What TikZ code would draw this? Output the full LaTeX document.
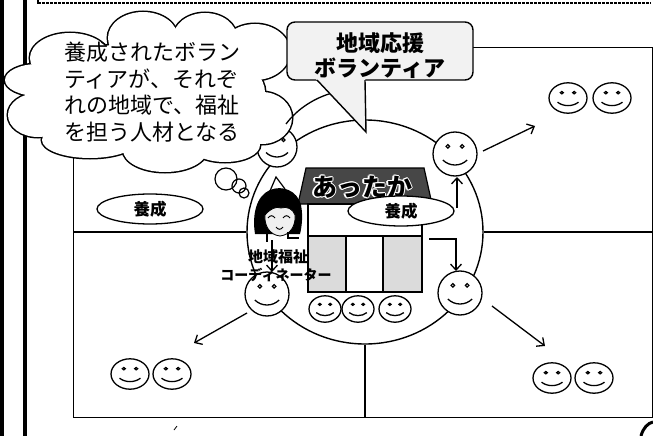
\documentclass[tikz,border=0pt]{standalone}
\usepackage{fontspec}
\newfontfamily\jpfont{Noto Sans CJK JP}
\usetikzlibrary{arrows.meta,shapes.geometric}
\begin{document}
\begin{tikzpicture}[x=1pt,y=-1pt,
  frameline/.style={line width=1.2pt},
  arr/.style={line width=1.3pt,-{Straight Barb[length=6pt,width=11pt,line width=1.3pt]}},
  oval/.style={draw,ellipse,line width=1.3pt,fill=white,inner sep=0pt,
    minimum width=106pt,minimum height=30pt,
    font=\jpfont\bfseries\fontsize{16.5}{18}\selectfont},
  roofword/.style={inner sep=0pt,font=\jpfont\bfseries\fontsize{25}{26}\selectfont},
  panel/.style={draw,line width=1.4pt},
  pics/smiley/.style={code={
    \draw[line width=1.3pt,fill=white] (0,0) circle [radius=20];
    \draw[line width=1.2pt] (-6.5,-7) circle [radius=1.6];
    \draw[line width=1.2pt] (6.5,-7) circle [radius=1.6];
    \draw[line width=1.3pt] (-11,5.5) .. controls (-5,11.5) and (5,11.5) .. (11,5.5);
  }}
]
\useasboundingbox (0,0) rectangle (653,436);

% page edge rules
\draw[line width=4pt] (2,0) -- (2,436);
\draw[line width=3.5pt] (25,0) -- (25,436);
\draw[line width=1.5pt,dash pattern=on 3pt off 1pt] (38,3) -- (651,3);
\draw[line width=1.2pt] (38,0) -- (38,4);

% outer frame and quadrant dividers
\node[draw,frameline,anchor=north west,inner sep=0pt,
      minimum width=579pt,minimum height=370pt] (fr) at (73,47) {};
\node[draw,ellipse,line width=1.4pt,inner sep=0pt,
      minimum width=236pt,minimum height=224pt] (hub) at (365,232) {};
\draw[frameline] (fr.west |- hub.west) -- (hub.west);
\draw[frameline] (hub.east) -- (hub.east -| fr.east);
\draw[frameline] (hub.south) -- (hub.south |- fr.south);

% house: roof with haloed lettering, walls and panels
\filldraw[fill=black!72,line width=1.2pt] (298,204) -- (306,168) -- (424,168) -- (432,204) -- cycle;
\foreach \dx/\dy [count=\k] in {-1.3/0,1.3/0,0/-1.3,0/1.3,-0.9/-0.9,0.9/0.9,-0.9/0.9,0.9/-0.9}
  \node[roofword,text=white] (halo\k) at (362+\dx,187+\dy) {あったか};
\node[roofword] (roofword) at (362,187) {あったか};
\draw[panel,fill=white] (308,204) rectangle (422,236);
\draw[panel,fill=black!14] (308,236) rectangle (346,292);
\draw[panel,fill=white] (346,236) rectangle (383,292);
\draw[panel,fill=black!14] (383,236) rectangle (422,292);

% training ovals
\node[oval] (trainL) at (150,209) {養成};
\node[oval] (trainH) at (401,211) {養成};

% smiling faces
\pic at (277,147) {smiley};
\pic[scale=1.1] at (455,154) {smiley};
\pic[scale=1.1] at (460,293) {smiley};
\pic[scale=1.1] at (267,294) {smiley};
\foreach \fx in {325,358,395} \pic[xscale=.8,yscale=.66] at (\fx,309) {smiley};
\foreach \fx/\fy in {568/98,612/98,552/378,594/378,130/374,172/374}
  \pic[xscale=.95,yscale=.76] at (\fx,\fy) {smiley};

% arrow end points
\coordinate (trS) at (483,151);  \coordinate (trE) at (535,126);
\coordinate (brS) at (492,306);  \coordinate (brE) at (545,346);
\coordinate (blS) at (247,313);  \coordinate (blE) at (194,343);
\coordinate (upS) at (457,208);  \coordinate (upE) at (457,177);
\coordinate (bnS) at (429,239);  \coordinate (bnE) at (456,271);
\coordinate (coS) at (272,240);  \coordinate (coE) at (272,272);
\draw[arr] (trS) -- (trE);
\draw[arr] (brS) -- (brE);
\draw[arr] (blS) -- (blE);
\draw[arr] (upS) -- (upE);
\draw[arr] (bnS) -| (bnE);
\draw[arr] (coS) -- (coE);

% coordinator figure
\fill (255,234) .. controls (252,215) and (256,196) .. (270,190)
      .. controls (282,185) and (297,190) .. (301,205)
      .. controls (303,215) and (302,226) .. (300,234) -- cycle;
\filldraw[fill=black!6,line width=.8pt] (265,215) .. controls (270,209) and (276,206) .. (281,208)
      .. controls (287,206) and (293,209) .. (295,215)
      .. controls (296,226) and (290,235) .. (280,236)
      .. controls (270,235) and (264,226) .. (265,215) -- cycle;
\draw[line width=1pt] (268,218) .. controls (270,215) and (273,215) .. (275,218);
\draw[line width=1pt] (283,218) .. controls (285,215) and (288,215) .. (290,218);
\draw[line width=1pt] (276,227) .. controls (278,230) and (281,230) .. (283,227);
\draw[line width=1.2pt] (270,191) -- (276,177) -- (285,189);
\draw[line width=1.2pt] (267,234) -- (267,242);
\draw[line width=1.2pt] (288,232) -- (288,238) -- (299,238);

\node[inner sep=0pt,font=\jpfont\bfseries\fontsize{15}{18}\selectfont] (coordA) at (278,257) {地域福祉};
\node[inner sep=0pt,font=\jpfont\bfseries\fontsize{14}{18}\selectfont] (coordB) at (276,275) {コーディネーター};

% thought bubbles
\draw[line width=1.2pt] (226,179) circle [radius=11];
\draw[line width=1.2pt] (239,186) circle [radius=7];
\draw[line width=1.2pt] (244,193) circle [radius=5];

% speech cloud
\def\cloudlobes{70/58/40/25,143/38/35/26,205/38/32/25,255/52/35/28,262/118/30/26,
  225/145/35/17,165/150/42/22,90/140/48/18,38/115/30/22,38/80/33/16,150/92/115/50}
\foreach \cx/\cy/\rx/\ry in \cloudlobes
  \draw[line width=3pt] (\cx,\cy) ellipse [x radius=\rx,y radius=\ry];
\foreach \cx/\cy/\rx/\ry in \cloudlobes
  \fill[white] (\cx,\cy) ellipse [x radius=\rx,y radius=\ry];
\node[inner sep=0pt,align=left,font=\jpfont\fontsize{22}{26.7}\selectfont] (cloudtext) at (152,92)
  {養成されたボラン\\ティアが、それぞ\\れの地域で、福祉\\を担う人材となる};

% arc under the callout
\draw[line width=1.3pt] (286,124) .. controls (298,108) and (315,98) .. (332,93);

% callout box with pointer
\node[draw,rounded corners=8pt,fill=black!5,line width=1.4pt,inner sep=0pt,
      minimum width=186pt,minimum height=58pt] (callout) at (380,51) {};
\fill[black!5] (316,79) -- (366,132) -- (365.3,79) -- cycle;
\coordinate (ptL) at (317,80); \coordinate (ptT) at (366,132); \coordinate (ptR) at (365,80);
\draw[line width=1.4pt,line join=miter] (ptL) -- (ptT) -- (ptR);
\node[inner sep=0pt,align=center,font=\jpfont\bfseries\fontsize{22}{25}\selectfont] (callouttext) at (380,56)
  {地域応援\\ボランティア};

% corner mark and stray tick
\draw[line width=3pt] (641,436) .. controls (643,428) and (648,423) .. (653,422);
\draw[line width=.8pt] (174,430) -- (177,426);
\end{tikzpicture}
\end{document}
